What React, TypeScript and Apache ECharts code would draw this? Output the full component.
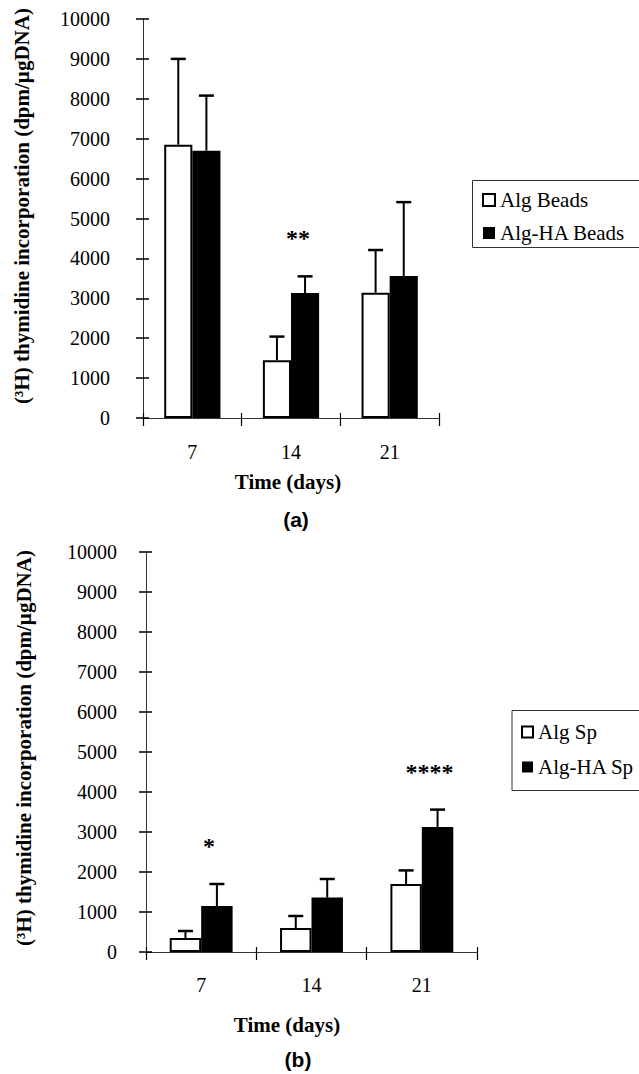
import React, { useEffect, useRef } from "react";
import * as echarts from "echarts";

// ---------- data ----------
const days = ["7", "14", "21"];
const yTicks = [0, 10000, 1000]; // min, max, interval

// panel (a): beads
const algBeads = [6850, 1450, 3140];
const algBeadsSD = [2150, 590, 1070];
const algHABeads = [6700, 3130, 3560];
const algHABeadsSD = [1380, 420, 1850];
const sigA = ["", "**", ""];

// panel (b): spheroids
const algSp = [350, 600, 1700];
const algSpSD = [175, 300, 340];
const algHASp = [1150, 1360, 3125];
const algHASpSD = [550, 465, 435];
const sigB = ["*", "", "****"];

const SERIF = "Liberation Serif";
const SANS = "Liberation Sans";
const BAR_FRAC = 0.285;
const yName = "(\u00B3H) thymidine incorporation (dpm/\u00B5gDNA)";

function errData(mean: number[], sd: number[]) {
  return mean.map((m, i) => [i, m, m + sd[i]]);
}

function errSeries(name: string, mean: number[], sd: number[], side: number, xi: number, yi: number) {
  return {
    type: "custom",
    name: name + " SD",
    xAxisIndex: xi,
    yAxisIndex: yi,
    z: 5,
    encode: { x: 0, y: [1, 2] },
    data: errData(mean, sd),
    renderItem: (params: any, api: any) => {
      const idx = api.value(0);
      const lo = api.coord([idx, api.value(1)]);
      const hi = api.coord([idx, api.value(2)]);
      const band = api.size([1, 0])[0];
      const x = lo[0] + (side * band * BAR_FRAC) / 2;
      return {
        type: "group",
        children: [
          { type: "line", shape: { x1: x, y1: lo[1], x2: x, y2: hi[1] }, style: { stroke: "#000", lineWidth: 2 } },
          { type: "line", shape: { x1: x - 7.5, y1: hi[1], x2: x + 7.5, y2: hi[1] }, style: { stroke: "#000", lineWidth: 2.5 } },
        ],
      };
    },
  };
}

function sigSeries(sig: string[], mean: number[], sd: number[], xi: number, yi: number) {
  return {
    type: "custom",
    name: "significance",
    xAxisIndex: xi,
    yAxisIndex: yi,
    z: 6,
    encode: { x: 0, y: 1 },
    data: mean.map((m, i) => [i, m + sd[i]]),
    renderItem: (params: any, api: any) => {
      const idx = api.value(0);
      const txt = sig[idx];
      if (!txt) return null;
      const p = api.coord([idx, api.value(1)]);
      const band = api.size([1, 0])[0];
      return {
        type: "text",
        x: p[0] + band * 0.07,
        y: p[1] - 38,
        style: {
          text: txt,
          fontSize: 24,
          fontWeight: "bold",
          fontFamily: SERIF,
          fill: "#000",
          textAlign: "center",
          textVerticalAlign: "middle",
        },
      };
    },
  };
}

function yAxes(gridIndex: number, margin: number) {
  const base = {
    type: "value",
    gridIndex,
    min: yTicks[0],
    max: yTicks[1],
    interval: yTicks[2],
    position: "left",
    splitLine: { show: false },
  };
  return [
    {
      ...base,
      axisLine: { show: true, lineStyle: { color: "#333", width: 1 } },
      axisTick: { show: true, length: 7, lineStyle: { color: "#000", width: 1.5 } },
      axisLabel: {
        margin,
        fontFamily: SERIF,
        fontSize: 20,
        color: "#000",
        formatter: (v: number) => String(v),
      },
    },
    {
      ...base,
      axisLine: { show: false },
      axisTick: { show: true, inside: true, length: 6, lineStyle: { color: "#000", width: 1.5 } },
      axisLabel: { show: false },
    },
  ];
}

function xAxes(gridIndex: number, margin: number) {
  const base = { type: "category", gridIndex, data: days, position: "bottom" };
  return [
    {
      ...base,
      axisLine: { show: true, lineStyle: { color: "#333", width: 1 } },
      axisTick: { show: true, length: 8, lineStyle: { color: "#000", width: 1.2 } },
      axisLabel: { margin, fontFamily: SERIF, fontSize: 20, color: "#000" },
    },
    {
      ...base,
      axisLine: { show: false },
      axisTick: { show: true, inside: true, length: 5, lineStyle: { color: "#000", width: 1.2 } },
      axisLabel: { show: false },
    },
  ];
}

const whiteStyle = { color: "#fff", borderColor: "#000", borderWidth: 2 };
const blackStyle = { color: "#000", borderColor: "#000", borderWidth: 0 };

function text(t: string, x: number, y: number, size: number, family: string, rot = 0) {
  return {
    type: "text",
    x,
    y,
    rotation: rot,
    style: {
      text: t,
      fontSize: size,
      fontWeight: "bold",
      fontFamily: family,
      fill: "#000",
      textAlign: "center",
      textVerticalAlign: "middle",
    },
  };
}

export default function App() {
  const ref = useRef<HTMLDivElement>(null);
  useEffect(() => {
    if (!ref.current) return;
    const chart = echarts.init(ref.current, null, { renderer: "svg" });
    const legendText = { fontFamily: SERIF, fontSize: 21, lineHeight: 21, color: "#000" };
    chart.setOption({
      animation: false,
      backgroundColor: "#fff",
      grid: [
        { left: 143, top: 19, width: 296, height: 399 },
        { left: 146, top: 552, width: 331, height: 400 },
      ],
      xAxis: [...xAxes(0, 24), ...xAxes(1, 23)],
      yAxis: [...yAxes(0, 33), ...yAxes(1, 29)],
      legend: [
        {
          orient: "vertical",
          left: 482,
          top: 189.5,
          padding: 0,
          itemGap: 12,
          itemWidth: 12,
          itemHeight: 12,
          icon: "rect",
          data: ["Alg Beads", "Alg-HA Beads"],
          textStyle: legendText,
        },
        {
          orient: "vertical",
          left: 521,
          top: 721.5,
          padding: 0,
          itemGap: 14,
          itemWidth: 11,
          itemHeight: 11,
          icon: "rect",
          data: ["Alg Sp", "Alg-HA Sp"],
          textStyle: legendText,
        },
      ],
      graphic: [
        { type: "rect", shape: { x: 472.5, y: 180.5, width: 200, height: 67 }, style: { fill: "none", stroke: "#333", lineWidth: 1 } },
        { type: "rect", shape: { x: 512, y: 710.5, width: 200, height: 80 }, style: { fill: "none", stroke: "#333", lineWidth: 1 } },
        text(yName, 22, 206, 21, SERIF, Math.PI / 2),
        text(yName, 24, 748, 21, SERIF, Math.PI / 2),
        text("Time (days)", 288, 482, 21, SERIF),
        text("Time (days)", 287, 1025, 21, SERIF),
        text("(a)", 296, 519, 21, SANS),
        text("(b)", 298, 1059, 21, SANS),
      ],
      series: [
        { type: "bar", name: "Alg Beads", xAxisIndex: 0, yAxisIndex: 0, data: algBeads, barWidth: "28.5%", barGap: "0%", itemStyle: whiteStyle },
        { type: "bar", name: "Alg-HA Beads", xAxisIndex: 0, yAxisIndex: 0, data: algHABeads, barWidth: "28.5%", barGap: "0%", itemStyle: blackStyle },
        errSeries("Alg Beads", algBeads, algBeadsSD, -1, 0, 0),
        errSeries("Alg-HA Beads", algHABeads, algHABeadsSD, 1, 0, 0),
        sigSeries(sigA, algHABeads, algHABeadsSD, 0, 0),
        { type: "bar", name: "Alg Sp", xAxisIndex: 2, yAxisIndex: 2, data: algSp, barWidth: "28.5%", barGap: "0%", itemStyle: whiteStyle },
        { type: "bar", name: "Alg-HA Sp", xAxisIndex: 2, yAxisIndex: 2, data: algHASp, barWidth: "28.5%", barGap: "0%", itemStyle: blackStyle },
        errSeries("Alg Sp", algSp, algSpSD, -1, 2, 2),
        errSeries("Alg-HA Sp", algHASp, algHASpSD, 1, 2, 2),
        sigSeries(sigB, algHASp, algHASpSD, 2, 2),
      ],
    });
    return () => chart.dispose();
  }, []);
  return (
    <div
      ref={ref}
      style={{ position: "absolute", left: 0, top: 0, width: 639, height: 1074, background: "#fff" }}
    />
  );
}
